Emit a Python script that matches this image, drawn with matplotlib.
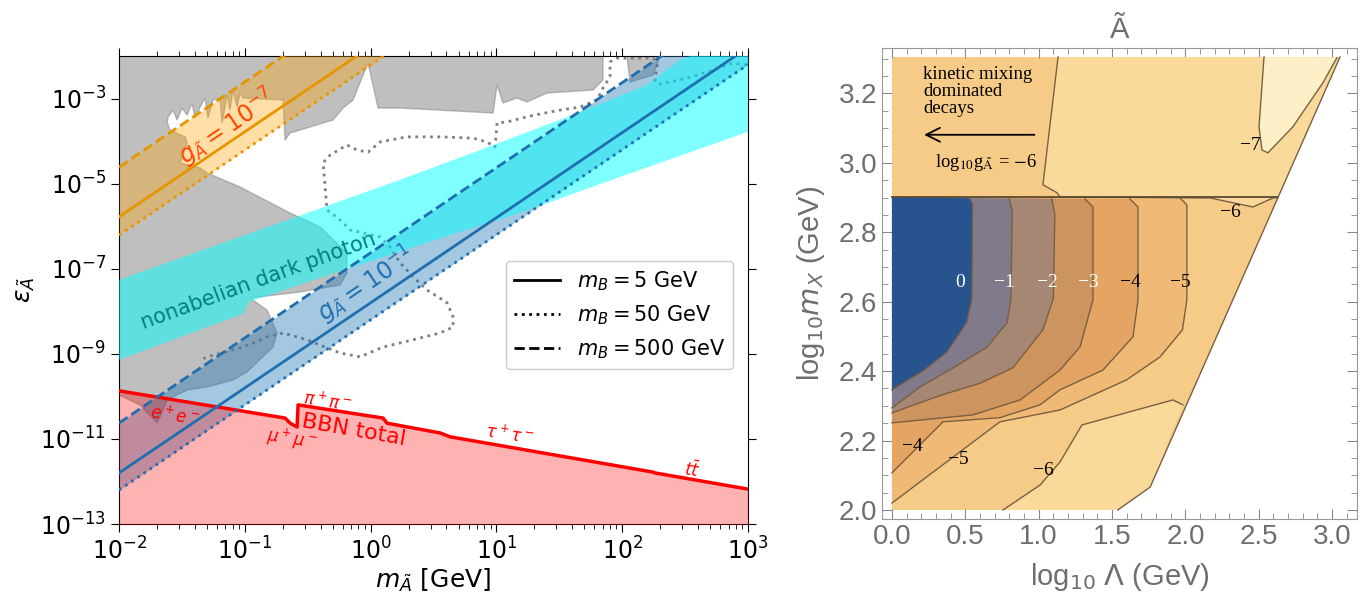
import numpy as np
import matplotlib.pyplot as plt
from matplotlib.lines import Line2D
from matplotlib.ticker import LogLocator, NullLocator, MultipleLocator

# ---------------- left panel: log10 m [GeV], log10 eps ----------------
gray_lm = [-2.0, 1.847, 1.847, 1.768, 1.402, 1.243, 1.164, 1.052, 1.005, 0.973,
           0.234, 0.059, -0.021, -0.140, -0.219, -0.299, -0.641, -0.680, -0.696,
           -1.014, -1.038, -1.062, -1.094, -1.118, -1.141, -1.181, -1.197, -1.253,
           -1.293, -1.316, -1.356, -1.396, -1.420, -1.459, -1.499, -1.539, -1.571,
           -1.610, -1.618, -1.595, -1.475, -1.459, -1.515, -1.356, -1.300, -1.038,
           -0.641, -0.402, -0.188, -0.188, -0.243, -0.561, -0.959, -0.824, -0.744,
           -0.776, -0.983, -1.094, -1.300, -1.459, -1.618, -1.674, -1.698, -1.833, -2.0]
gray_le = [-2.0, -2.0, -2.564, -2.799, -2.870, -3.081, -2.987, -3.105, -2.682, -3.340,
           -3.222, -3.222, -2.16, -3.034, -3.222, -3.504, -3.810, -3.974, -3.034,
           -2.987, -2.870, -3.199, -2.799, -3.269, -2.917, -3.575, -2.987, -3.034,
           -3.457, -2.987, -3.199, -3.457, -3.105, -3.387, -3.222, -3.504, -3.269,
           -3.434, -3.551, -3.739, -3.904, -4.045, -4.515, -4.632, -4.750, -5.079,
           -5.690, -6.019, -6.630, -7.100, -7.382, -7.546, -7.688, -7.970, -8.510,
           -8.839, -9.427, -9.615, -9.779, -9.850, -10.085, -10.484, -10.625, -10.202, -9.967]

gray2_lm = [2.038, 2.062, 2.245, 2.301]
gray2_le = [-2.0, -2.611, -2.447, -2.0]

dotted_lm = [2.99, 2.881, 2.833, 2.722, 2.515, 2.30, 2.26, 2.277, 2.245, 1.959, 1.903,
             1.903, 1.847, 1.80, 1.665, 1.506, 1.267, 1.084, 1.005, 0.989, 0.925, 0.814,
             0.552, 0.289, 0.075, -0.021, -0.108, -0.188, -0.323, -0.378, -0.362, -0.347,
             -0.243, -0.164, 0.075, 0.154, 0.234, 0.337, 0.448, 0.607, 0.655, 0.655,
             0.552, 0.337, 0.099, -0.084, -0.243, -0.506, -0.696, -0.824, -0.935,
             -1.038, -1.253, -1.356]
dotted_le = [-2.21, -2.165, -2.21, -2.33, -2.52, -2.66, -2.61, -2.21, -2.05, -2.05, -2.14,
             -2.49, -2.75, -3.03, -3.20, -3.27, -3.41, -3.55, -3.57, -4.14, -4.02, -3.93,
             -3.90, -3.90, -4.02, -4.26, -4.21, -4.09, -4.33, -4.51, -5.08, -5.62,
             -5.85, -6.09, -6.25, -6.49, -6.86, -7.19, -7.50, -7.80, -8.13, -8.37,
             -8.51, -8.67, -8.84, -9.07, -8.98, -8.67, -8.51, -8.60, -8.75,
             -8.86, -9.03, -9.14]

cyan_lm = [-2.0, -1.038, 0.234, 0.870, 1.665, 2.197, 2.46, 2.54, 3.0,
           3.0, 1.823, 1.188, 0.631, -0.164, -0.967, -1.014, -2.0]
cyan_le = [-7.26, -6.25, -4.91, -4.21, -3.32, -2.68, -2.09, -2.0, -2.0,
           -3.78, -5.01, -5.69, -6.21, -6.98, -7.78, -8.06, -9.14]

bbn_lm = [-2.0, -0.68, -0.64, -0.585, -0.577, 0.099, 0.13, 0.552, 0.631, 2.245, 2.261, 3.0]
bbn_le = [-9.87, -10.51, -10.63, -10.72, -10.20, -10.51, -10.63, -10.86, -10.95, -11.78, -11.80, -12.18]

# coupling lines eps ~ m^2 : endpoints at m = 1e-2 and 1e3
m_ends = [1e-2, 1e3]
blue_solid = [10**-11.80, 10**-1.80]
blue_dash = [10**-10.625, 10**-0.625]
blue_dot = [10**-12.2, 10**-2.2]
orng_solid = [10**-5.78, 10**4.22]
orng_dash = [10**-4.61, 10**5.39]
orng_dot = [10**-6.21, 10**3.79]

# ---------------- right panel: log10 Lambda, log10 m_X ----------------
dom_x = [0.0, 1.54, 1.76, 3.054, 0.0]
dom_y = [2.0, 2.0, 2.066, 3.305, 3.305]

up7_x = [1.132, 1.029, 1.125, 1.145, 2.168, 2.461, 2.597, 2.63, 3.054]
up7_y = [3.305, 2.937, 2.914, 2.902, 2.899, 2.873, 2.899, 2.90, 3.305]
c7_x = [2.536, 2.502, 2.522, 2.563, 2.733, 2.938, 3.033]
c7_y = [3.305, 3.104, 3.037, 3.029, 3.104, 3.231, 3.303]
low7_x = [0.757, 1.01, 1.145, 1.295, 1.915, 1.983, 1.76, 1.54]
low7_y = [2.0, 2.072, 2.138, 2.245, 2.317, 2.303, 2.066, 2.0]

c5_x = [0.0, 0.736, 1.145, 1.60, 1.827, 1.98, 2.01, 2.01, 1.963]
c5_y = [2.02, 2.254, 2.288, 2.375, 2.441, 2.519, 2.605, 2.879, 2.899]
c4_x = [0.0, 0.348, 0.736, 1.009, 1.145, 1.438, 1.643, 1.677, 1.677, 1.622]
c4_y = [2.107, 2.254, 2.266, 2.303, 2.346, 2.403, 2.499, 2.605, 2.873, 2.896]
c3_x = [0.0, 0.552, 0.873, 1.145, 1.282, 1.37, 1.37, 1.316]
c3_y = [2.251, 2.274, 2.317, 2.403, 2.470, 2.605, 2.873, 2.896]
c2_x = [0.0, 0.33, 0.60, 0.825, 1.03, 1.10, 1.11, 1.09]
c2_y = [2.28, 2.33, 2.365, 2.41, 2.52, 2.61, 2.85, 2.896]
c1_x = [0.0, 0.19, 0.42, 0.65, 0.785, 0.81, 0.82, 0.80]
c1_y = [2.294, 2.354, 2.41, 2.47, 2.54, 2.605, 2.86, 2.896]
c0_x = [0.0, 0.21, 0.375, 0.51, 0.545, 0.55, 0.53]
c0_y = [2.346, 2.40, 2.455, 2.54, 2.61, 2.88, 2.898]

band_cols = ['#27548e', '#807a8a', '#a58773', '#cd945f', '#e4a564', '#f0b976',
             '#f6ca87', '#fada9b', '#fdf0c8']

lab_top = ['0', '\u22121', '\u22122', '\u22123', '\u22124', '\u22125']
lab_top_x = [0.464, 0.77, 1.063, 1.336, 1.622, 1.963]
lab_low = ['\u22124', '\u22125', '\u22126']
lab_low_x = [0.136, 0.45, 1.03]
lab_low_y = [2.184, 2.144, 2.115]

fig = plt.figure(figsize=(13.67, 6.03), dpi=100)
ax = fig.add_axes([0.0871, 0.131, 0.4601, 0.7761])

p = lambda v: 10**np.array(v)

ax.fill(p(gray_lm), p(gray_le), color='gray', alpha=0.5, lw=1, zorder=1)
ax.fill(p(gray2_lm), p(gray2_le), color='gray', alpha=0.5, lw=1, zorder=1)
ax.plot(p(dotted_lm), p(dotted_le), color='gray', ls=':', lw=2, zorder=2)

ax.fill_between(m_ends, orng_dot, orng_dash, color='orange', alpha=0.35, lw=0, zorder=3)
ax.fill_between(m_ends, blue_dot, blue_dash, color='tab:blue', alpha=0.4, lw=0, zorder=3)
ax.fill(p(cyan_lm), p(cyan_le), color='cyan', alpha=0.5, lw=0, zorder=3.5)

bx, by = p(bbn_lm), p(bbn_le)
ax.fill_between(bx, 1e-14, by, color='red', alpha=0.3, lw=0, zorder=4)
ax.plot(bx, by, color='red', lw=2.5, zorder=5)

oc = '#e69500'
ax.plot(m_ends, orng_solid, color=oc, lw=2, zorder=5)
ax.plot(m_ends, orng_dash, color=oc, lw=2, ls='--', zorder=5)
ax.plot(m_ends, orng_dot, color=oc, lw=2, ls=':', zorder=5)
bc = '#1f6fb0'
ax.plot(m_ends, blue_solid, color=bc, lw=2, zorder=5)
ax.plot(m_ends, blue_dash, color=bc, lw=2, ls='--', zorder=5)
ax.plot(m_ends, blue_dot, color=bc, lw=2, ls=':', zorder=5)

ax.text(10**-1.14, 10**-3.68, r'$g_{\tilde{A}} = 10^{-7}$', color='orangered', fontsize=17,
        rotation=34, ha='center', va='center', rotation_mode='anchor', zorder=6)
ax.text(10**-0.04, 10**-7.38, r'$g_{\tilde{A}} = 10^{-1}$', color=bc, fontsize=17,
        rotation=34, ha='center', va='center', rotation_mode='anchor', zorder=6)
ax.text(10**-0.895, 10**-7.29, 'nonabelian dark photon', color='#008080', fontsize=15,
        rotation=20, ha='center', va='center', rotation_mode='anchor', zorder=6)

rc = 'red'
ax.text(10**-1.56, 10**-10.47, r'$e^+e^-$', color=rc, fontsize=12, rotation=-9,
        ha='center', va='center', zorder=6)
ax.text(10**-0.339, 10**-10.13, r'$\pi^+\pi^-$', color=rc, fontsize=12, rotation=-9,
        ha='center', va='center', zorder=6)
ax.text(10**-0.625, 10**-11.02, r'$\mu^+\mu^-$', color=rc, fontsize=12, rotation=-9,
        ha='center', va='center', zorder=6)
ax.text(10**-0.132, 10**-10.79, 'BBN total', color=rc, fontsize=16, rotation=-10,
        ha='center', va='center', zorder=6)
ax.text(10**1.108, 10**-10.91, r'$\tau^+\tau^-$', color=rc, fontsize=12, rotation=-9,
        ha='center', va='center', zorder=6)
ax.text(10**2.555, 10**-11.73, r'$t\bar{t}$', color=rc, fontsize=12, rotation=-9,
        ha='center', va='center', zorder=6)

handles = [Line2D([], [], color='k', ls='-', lw=2),
           Line2D([], [], color='k', ls=':', lw=2),
           Line2D([], [], color='k', ls='--', lw=2)]
ax.legend(handles, [r'$m_B = 5$ GeV', r'$m_B = 50$ GeV', r'$m_B = 500$ GeV'],
          loc='upper right', bbox_to_anchor=(0.993, 0.585), fontsize=15,
          handlelength=2.2, framealpha=1).set_zorder(7)

ax.set_xscale('log')
ax.set_yscale('log')
ax.set_xlim(1e-2, 1e3)
ax.set_ylim(1e-13, 1e-2)
ax.set_yticks([1e-13, 1e-11, 1e-9, 1e-7, 1e-5, 1e-3])
ax.yaxis.set_minor_locator(NullLocator())
ax.xaxis.set_minor_locator(LogLocator(base=10, subs=np.arange(2, 10), numticks=20))
ax.tick_params(which='both', top=True, right=True, direction='out', labelsize=17)
ax.tick_params(which='major', length=6)
ax.tick_params(which='minor', length=3.5)
ax.set_xlabel(r'$m_{\tilde{A}}$ [GeV]', fontsize=18, labelpad=2)
ax.set_ylabel(r'$\varepsilon_{\tilde{A}}$', fontsize=18, labelpad=2)

# ---------------- right panel ----------------
ax2 = fig.add_axes([0.6452, 0.1393, 0.3475, 0.7811])
edge = '#7a6040'

ax2.fill(dom_x, dom_y, color=band_cols[6], lw=0, zorder=1)
ax2.fill(up7_x, up7_y, color=band_cols[7], lw=0, zorder=2)
ax2.fill(c7_x, c7_y, color=band_cols[8], lw=0, zorder=3)
ax2.fill(low7_x, low7_y, color=band_cols[7], lw=0, zorder=2)
ax2.plot(up7_x[:-1], up7_y[:-1], color=edge, lw=1, zorder=6)
ax2.plot(c7_x, c7_y, color=edge, lw=1, zorder=6)
ax2.plot(low7_x[:-2], low7_y[:-2], color=edge, lw=1, zorder=6)

contours = [(c5_x, c5_y), (c4_x, c4_y), (c3_x, c3_y), (c2_x, c2_y), (c1_x, c1_y), (c0_x, c0_y)]
for i, (cx, cy) in enumerate(contours):
    ax2.fill(list(cx) + [0.0], list(cy) + [2.902], color=band_cols[5 - i], lw=0, zorder=3 + i)
    ax2.plot(cx, cy, color=edge, lw=1, zorder=10)

ax2.plot([0.0, 2.63], [2.902, 2.902], color='#5a4a30', lw=1.3, zorder=10)
ax2.plot(dom_x[1:4], dom_y[1:4], color=edge, lw=1, zorder=10)

serif = 'Liberation Serif'
for t, x in zip(lab_top, lab_top_x):
    ax2.text(x, 2.654, t, color='white' if x < 1.5 else 'black', fontsize=14,
             family=serif, ha='center', va='center', zorder=12)
for t, x, y in zip(lab_low, lab_low_x, lab_low_y):
    ax2.text(x, y, t, fontsize=14, family=serif, ha='center', va='center', zorder=12)
ax2.text(2.304, 2.856, '\u22126', fontsize=14, family=serif, ha='center', va='center', zorder=12)
ax2.text(2.44, 3.049, '\u22127', fontsize=14, family=serif, ha='center', va='center', zorder=12)

ax2.text(0.211, 3.28, 'kinetic mixing\ndominated\ndecays', fontsize=13.5, family=serif,
         ha='left', va='top', linespacing=1.0, zorder=12)
ax2.annotate('', xy=(0.2, 3.081), xytext=(0.99, 3.081),
             arrowprops=dict(arrowstyle='->', color='black', lw=1.3, mutation_scale=25), zorder=12)
ax2.text(0.293, 3.0, r'log$_{10}$g$_{\tilde{\mathrm{A}}}$ = $-$6', fontsize=13.5, family=serif,
         math_fontfamily='stix', ha='left', va='center', zorder=12)

ax2.set_xlim(-0.068, 3.17)
ax2.set_ylim(1.974, 3.331)
ax2.xaxis.set_major_locator(MultipleLocator(0.5))
ax2.xaxis.set_minor_locator(MultipleLocator(0.1))
ax2.yaxis.set_major_locator(MultipleLocator(0.2))
ax2.yaxis.set_minor_locator(MultipleLocator(0.05))
gc = '#6e6e6e'
ax2.tick_params(which='both', direction='in', top=True, right=True, colors='#888888',
                labelcolor=gc, labelsize=20)
ax2.tick_params(which='major', length=7)
ax2.tick_params(which='minor', length=4)
for lab in ax2.get_xticklabels() + ax2.get_yticklabels():
    lab.set_family('Liberation Sans')
for s in ax2.spines.values():
    s.set_color('#999999')
ax2.set_xlabel(r'log$_{10}$ $\Lambda$ (GeV)', fontsize=21, color=gc, family='Liberation Sans', labelpad=8)
ax2.set_ylabel(r'log$_{10}m_X$ (GeV)', fontsize=21, color=gc, family='Liberation Sans', labelpad=8)
ax2.text(0.5, 1.022, '\u00c3', transform=ax2.transAxes, fontsize=21, color=gc,
         family='Liberation Sans', ha='center', va='baseline')

fig.savefig('out.png', dpi=100)
